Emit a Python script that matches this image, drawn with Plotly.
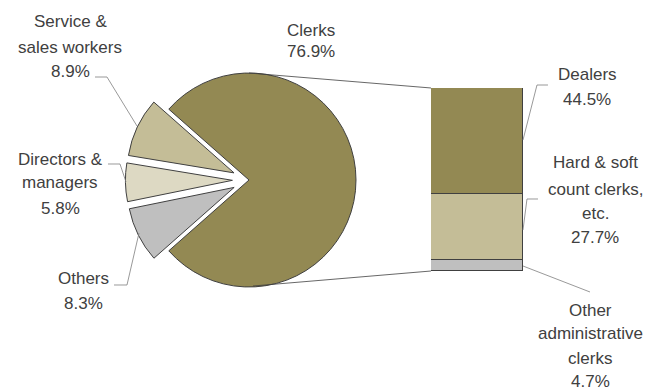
import plotly.graph_objects as go

# ---- data ----
pie_labels = ["Clerks", "Others", "Directors & managers", "Service & sales workers"]
pie_values = [76.9, 8.3, 5.8, 8.9]
bar_labels = ["Other administrative clerks", "Hard & soft count clerks, etc.", "Dealers"]
bar_values = [4.7, 27.7, 44.5]

# ---- styling ----
W, H = 657, 387
pie_colors = ["#938953", "#BFBFBF", "#DDD9C3", "#C4BD97"]
bar_colors = ["#BFBFBF", "#C4BD97", "#938953"]
pulls = [0, 0.155, 0.155, 0.155]
outline = "#404040"
txt_color = "#404040"
lead_color = "#7F7F7F"
FONT = "Liberation Sans, Arial, sans-serif"
FS = 17

def P(x, y):
    return x / W, 1 - y / H

# pie geometry (pixels)
cx, cy, R = 249, 180, 107
box = 2 * R * (1 + max(pulls))
dom_x = [(cx - box / 2) / W, (cx + box / 2) / W]
dom_y = [1 - (cy + box / 2) / H, 1 - (cy - box / 2) / H]

clerk_share = pie_values[0] / sum(pie_values)
rotation = 90 - clerk_share * 360 / 2

# bar geometry (pixels)
bx0, bx1, by_top, by_bot = 431, 523, 88, 271

fig = go.Figure()
fig.add_trace(go.Pie(
    labels=pie_labels, values=pie_values, sort=False, direction="clockwise",
    rotation=rotation, pull=pulls, textinfo="none", showlegend=False,
    marker=dict(colors=pie_colors, line=dict(color=outline, width=1)),
    domain=dict(x=dom_x, y=dom_y),
))
for lab, val, col in zip(bar_labels, bar_values, bar_colors):
    fig.add_trace(go.Bar(
        x=[0], y=[val], name=lab, width=1, showlegend=False,
        marker=dict(color=col, line=dict(color=outline, width=1)),
        xaxis="x", yaxis="y",
    ))

fig.update_layout(
    width=W, height=H, margin=dict(l=0, r=0, t=0, b=0),
    paper_bgcolor="white", plot_bgcolor="rgba(0,0,0,0)",
    barmode="stack", bargap=0,
    xaxis=dict(domain=[bx0 / W, bx1 / W], range=[-0.5, 0.5], visible=False, fixedrange=True),
    yaxis=dict(domain=[1 - by_bot / H, 1 - by_top / H], range=[0, sum(bar_values)], visible=False, fixedrange=True),
    font=dict(family=FONT, size=FS, color=txt_color),
)

shapes = []
def line_path(pts, color, width):
    d = "M " + " L ".join(f"{P(x, y)[0]:.5f},{P(x, y)[1]:.5f}" for x, y in pts)
    shapes.append(dict(type="path", path=d, xref="paper", yref="paper",
                       line=dict(color=color, width=width), fillcolor="rgba(0,0,0,0)"))

# connectors pie -> bar
line_path([(cx, cy - R), (bx0, by_top)], outline, 0.8)
line_path([(cx + 4, cy + R - 1), (bx0, by_bot)], outline, 0.8)

# leader lines
line_path([(95, 77), (107, 77), (137, 126)], lead_color, 0.8)
line_path([(108, 164), (120, 164), (126, 182)], lead_color, 0.8)
line_path([(114, 285), (127, 285), (139, 233)], lead_color, 0.8)
line_path([(548, 85), (537, 85), (523, 140)], lead_color, 0.8)
line_path([(538, 199), (527, 199), (523, 230)], lead_color, 0.8)
line_path([(523, 266), (590, 292)], lead_color, 0.8)
fig.update_layout(shapes=shapes)

# labels: each line as its own annotation
label_lines = [
    (70, [("Service &", 22), ("sales workers", 47), (f"{pie_values[3]}%", 71)]),
    (60, [("Directors &", 159), ("managers", 183), (f"{pie_values[2]}%", 208)]),
    (83, [("Others", 278), (f"{pie_values[1]}%", 303)]),
    (311, [("Clerks", 30), (f"{pie_values[0]}%", 52)]),
    (587, [("Dealers", 74), (f"{bar_values[2]}%", 99)]),
    (595, [("Hard & soft", 163), ("count clerks,", 189), ("etc.", 213), (f"{bar_values[1]}%", 238)]),
    (590, [("Other", 310), ("administrative", 333), ("clerks", 358), (f"{bar_values[0]}%", 381)]),
]
anns = []
for x, lines in label_lines:
    for t, y in lines:
        px, py = P(x, y)
        anns.append(dict(x=px, y=py, xref="paper", yref="paper", text=t, showarrow=False,
                         xanchor="center", yanchor="middle",
                         font=dict(family=FONT, size=FS, color=txt_color)))
fig.update_layout(annotations=anns)

fig.write_html("out.html")
